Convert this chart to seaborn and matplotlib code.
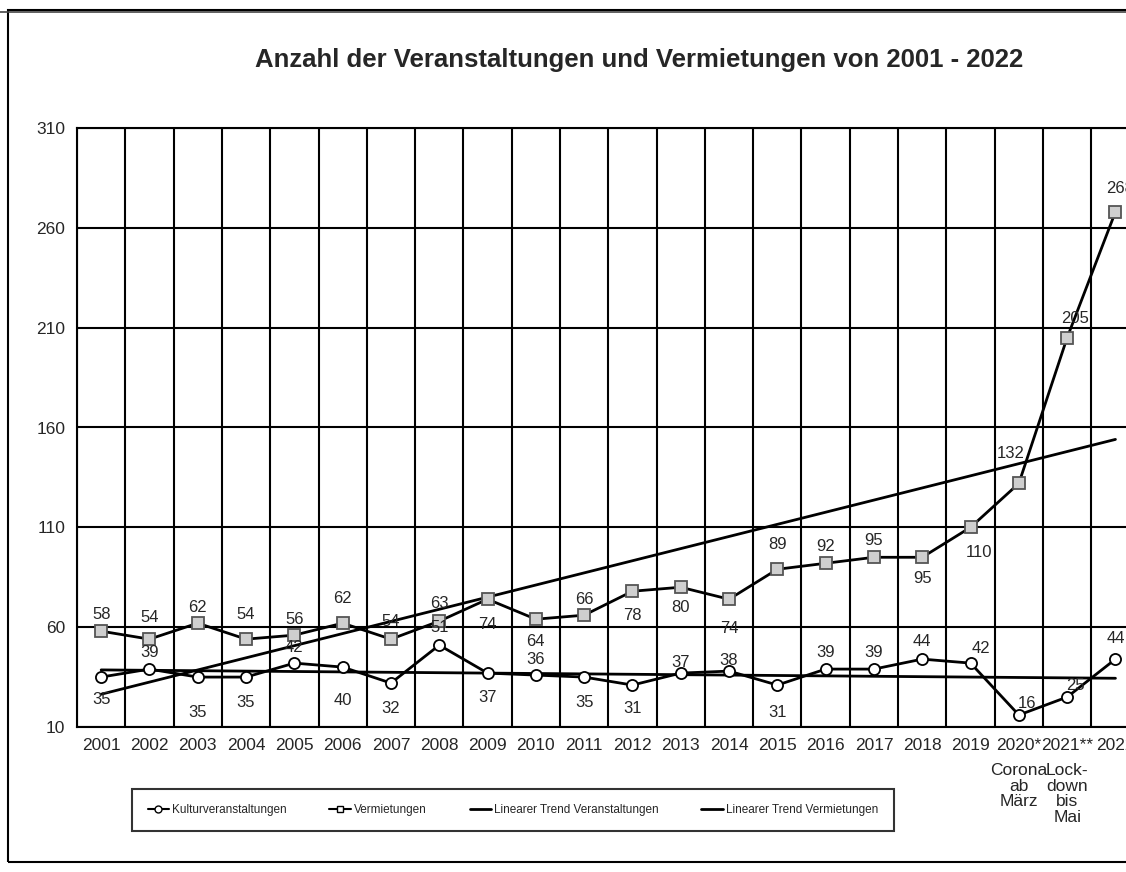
import numpy as np
import seaborn as sns
import matplotlib.pyplot as plt
from matplotlib.lines import Line2D
from matplotlib.patches import Rectangle

years = ['2001', '2002', '2003', '2004', '2005', '2006', '2007', '2008', '2009', '2010', '2011',
         '2012', '2013', '2014', '2015', '2016', '2017', '2018', '2019', '2020*', '2021**', '2022']
notes = {'2020*': 'Corona\nab\nMärz', '2021**': 'Lock-\ndown\nbis\nMai'}
kultur = [35, 39, 35, 35, 42, 40, 32, 51, 37, 36, 35, 31, 37, 38, 31, 39, 39, 44, 42, 16, 25, 44]
vermietungen = [58, 54, 62, 54, 56, 62, 54, 63, 74, 64, 66, 78, 80, 74, 89, 92, 95, 95, 110, 132, 205, 268]

# label offsets in pixels (dx, dy), as placed in the original
off_k = [(0, -22), (0, 17), (0, -35), (0, -25), (0, 16), (0, -33), (0, -25), (0, 18), (0, -24), (0, 16),
         (0, -25), (0, -23), (0, 11), (0, 11), (0, -27), (0, 17), (0, 17), (0, 18), (10, 15), (8, 12),
         (8, 12), (0, 21)]
off_v = [(0, 17), (0, 22), (0, 16), (0, 25), (0, 16), (0, 25), (0, 18), (0, 18), (0, -25), (0, -22),
         (0, 16), (0, -24), (0, -20), (0, -29), (0, 25), (0, 17), (0, 17), (0, -21), (8, -25), (-8, 30),
         (8, 19), (5, 23)]

sns.set_style('white')
plt.rcParams['font.family'] = ['Liberation Sans Narrow', 'Liberation Sans', 'DejaVu Sans']

fig = plt.figure(figsize=(11.26, 8.72), dpi=100)
ax = fig.add_axes([77 / 1126, 145 / 872, 1062.6 / 1126, 599 / 872])

pos = np.arange(len(years))
sns.lineplot(x=pos, y=kultur, ax=ax, color='black', lw=2, marker='o', markersize=8,
             markerfacecolor='white', markeredgecolor='black', markeredgewidth=1.3, zorder=5)
sns.lineplot(x=pos, y=vermietungen, ax=ax, color='black', lw=2, marker='s', markersize=8,
             markerfacecolor='#cfcfcf', markeredgecolor='#555555', markeredgewidth=1.3, zorder=5)

# linear trends
for vals in (kultur, vermietungen):
    k, d = np.polyfit(pos, vals, 1)
    sns.lineplot(x=pos, y=k * pos + d, ax=ax, color='black', lw=2, zorder=4)

for series, offs in ((kultur, off_k), (vermietungen, off_v)):
    for i, v in enumerate(series):
        ax.annotate(str(v), (pos[i], v), xytext=offs[i], textcoords='offset pixels',
                    ha='center', va='center', fontsize=12, zorder=6)

ax.set_xlim(-0.5, len(years) - 0.5)
ax.set_ylim(10, 310)
ax.set_yticks(np.arange(10, 311, 50))
ax.set_xticks(np.arange(-0.5, len(years), 1), minor=False)
ax.set_xticklabels([])
ax.set_xticks(pos, minor=True)
ax.set_xticklabels(years, minor=True, fontsize=12.5)
ax.tick_params(axis='x', which='minor', length=0, pad=8)
ax.tick_params(axis='x', which='major', length=6, width=1.5, color='black', direction='out')
ax.tick_params(axis='y', labelsize=12.5, length=5, width=1.2, color='black', direction='out')
ax.grid(True, which='major', color='black', lw=1.5)
for s in ax.spines.values():
    s.set_color('black')
    s.set_linewidth(1.5)
for i, y in enumerate(years):
    if y in notes:
        ax.annotate(notes[y], (pos[i], 10), xytext=(0, -36), textcoords='offset pixels',
                    ha='center', va='top', fontsize=12.5, linespacing=1.05,
                    annotation_clip=False)

fig.text(639 / 1126, 1 - 60 / 872, 'Anzahl der Veranstaltungen und Vermietungen von 2001 - 2022',
         ha='center', va='center', fontsize=18.5, fontweight='bold')

handles = [
    Line2D([], [], color='black', lw=1.5, marker='o', markersize=5, markerfacecolor='white'),
    Line2D([], [], color='black', lw=1.5, marker='s', markersize=5, markerfacecolor='white'),
    Line2D([], [], color='black', lw=2),
    Line2D([], [], color='black', lw=2),
]
labels = ['Kulturveranstaltungen', 'Vermietungen', 'Linearer Trend Veranstaltungen',
          'Linearer Trend Vermietungen']
leg = fig.legend(handles, labels, ncol=4, loc='center', bbox_to_anchor=(513 / 1126, 1 - 810 / 872),
                 fontsize=8.5, frameon=True, fancybox=False, edgecolor='black', handlelength=1.8,
                 handletextpad=0.3, columnspacing=3.6, borderpad=1.3)
leg.get_frame().set_linewidth(1.5)

# outer frame of the chart area
fig.patches.append(Rectangle((8 / 1126, 10 / 872), 1.0, 852 / 872, transform=fig.transFigure,
                             fill=False, edgecolor='black', lw=1.5))
fig.patches.append(Rectangle((0, 1 - 12 / 872), 1.0, 0.0, transform=fig.transFigure,
                             fill=False, edgecolor='#444444', lw=1.2))

fig.savefig('out.png', dpi=100)
